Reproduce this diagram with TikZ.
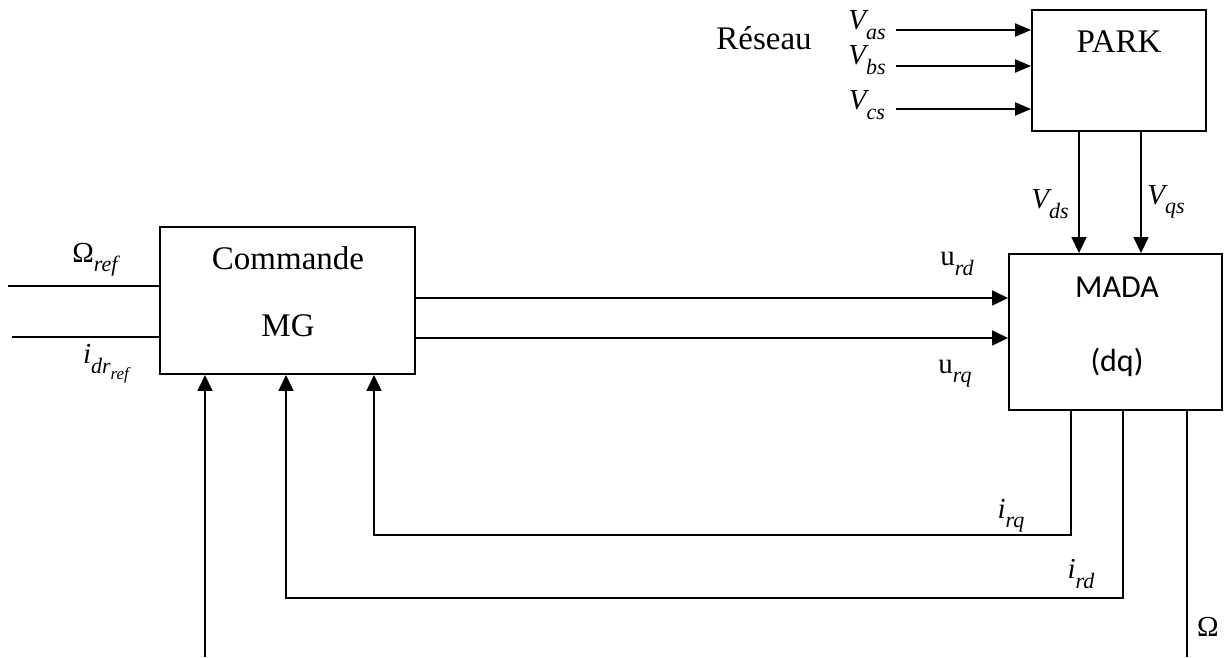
\documentclass[tikz,border=0pt]{standalone}
\usepackage{fontspec}
\setmainfont{Liberation Serif}
\newfontfamily\calibri{Carlito}
\usetikzlibrary{arrows.meta}

% symbol with italic subscript (and optional second-level subscript)
\newcommand\symb[2]{#1\raisebox{-0.32em}{\fontsize{22}{24}\selectfont\itshape #2}}
\newcommand\symbb[3]{#1\raisebox{-0.32em}{\fontsize{22}{24}\selectfont\itshape #2\raisebox{-0.3em}{\fontsize{17}{18}\selectfont\itshape #3}}}

\tikzset{
  box/.style={draw, line width=1.9pt, inner sep=0pt},
  wire/.style={line width=1.5pt},
  arr/.style={wire, -{Triangle[length=16pt,width=15pt]}},
  inarr/.style={line width=2.2pt, -{Triangle[length=16pt,width=13pt]}},
  txt/.style={font=\fontsize{33}{38}\selectfont, inner sep=0pt},
  ctxt/.style={font=\calibri\fontsize{32}{38}\selectfont, inner sep=0pt},
  lbl/.style={font=\fontsize{29}{33}\selectfont, inner sep=0pt},
}

\begin{document}
\begin{tikzpicture}[x=1pt,y=-1pt]
\useasboundingbox (0,0) rectangle (1228,657);

% blocks
\node[box, minimum width=174pt, minimum height=121pt] (park) at (1119,70.5) {};
\node[box, minimum width=255pt, minimum height=147pt] (cmd) at (287.5,300.5) {};
\node[box, minimum width=213pt, minimum height=156pt] (mada) at (1115.5,332) {};

\node[txt] (parkT) at (1119,42) {PARK};
\node[txt] (cmdT) at (288,258) {Commande};
\node[txt] (mgT) at (288,326) {MG};
\node[ctxt] (madaT) at (1117,287) {MADA};
\node[ctxt] (dqT) at (1117,362) {(dq)};

% grid inputs to PARK
\node[txt] (res) at (764,38) {Réseau};
\coordinate (vaS) at (896,30);
\coordinate (vbS) at (896,66);
\coordinate (vcS) at (896,109);
\draw[inarr] (vaS) -- (vaS -| park.west);
\draw[inarr] (vbS) -- (vbS -| park.west);
\draw[inarr] (vcS) -- (vcS -| park.west);
\node[lbl] (vaL) at (867,25) {\symb{\itshape V}{as}};
\node[lbl] (vbL) at (867,60) {\symb{\itshape V}{bs}};
\node[lbl] (vcL) at (867,105) {\symb{\itshape V}{cs}};

% PARK outputs to MADA
\coordinate (vdX) at (1079,0);
\coordinate (vqX) at (1141,0);
\draw[arr] (vdX |- park.south) -- (vdX |- mada.north);
\draw[arr] (vqX |- park.south) -- (vqX |- mada.north);
\node[lbl] (vdL) at (1050,204) {\symb{\itshape V}{ds}};
\node[lbl] (vqL) at (1166,202) {\symb{\itshape V}{qs}};

% references into the controller
\coordinate (omS) at (8,286);
\coordinate (idS) at (12,337);
\draw[wire] (omS) -- (cmd.west |- omS);
\draw[wire] (idS) -- (cmd.west |- idS);
\node[lbl] (omL) at (95,260) {\symb{Ω}{ref}};
\node[lbl] (idL) at (106,364) {\symbb{\itshape i}{dr}{ref}};

% control voltages
\coordinate (urdY) at (0,298);
\coordinate (urqY) at (0,338);
\draw[arr] (cmd.east |- urdY) -- (mada.west |- urdY);
\draw[arr] (cmd.east |- urqY) -- (mada.west |- urqY);
\node[lbl] (urdL) at (957,264) {\symb{u}{rd}};
\node[lbl] (urqL) at (955,374) {\symb{u}{rq}};

% measured feedback
\coordinate (irqX) at (1071,0);
\coordinate (irdX) at (1123,0);
\coordinate (omX) at (1187,0);
\coordinate (irqC) at (374,535);
\coordinate (irdC) at (286,598);
\draw[arr] (irqX |- mada.south) |- (irqC) -- (irqC |- cmd.south);
\draw[arr] (irdX |- mada.south) |- (irdC) -- (irdC |- cmd.south);
\draw[wire] (omX |- mada.south) -- (1187,657);
\coordinate (omIn) at (205,657);
\draw[arr] (omIn) -- (omIn |- cmd.south);
\node[lbl] (irqL) at (1011,516) {\symb{\itshape i}{rq}};
\node[lbl] (irdL) at (1081,574) {\symb{\itshape i}{rd}};
\node[lbl] (omBL) at (1208,627) {Ω};
\end{tikzpicture}
\end{document}
